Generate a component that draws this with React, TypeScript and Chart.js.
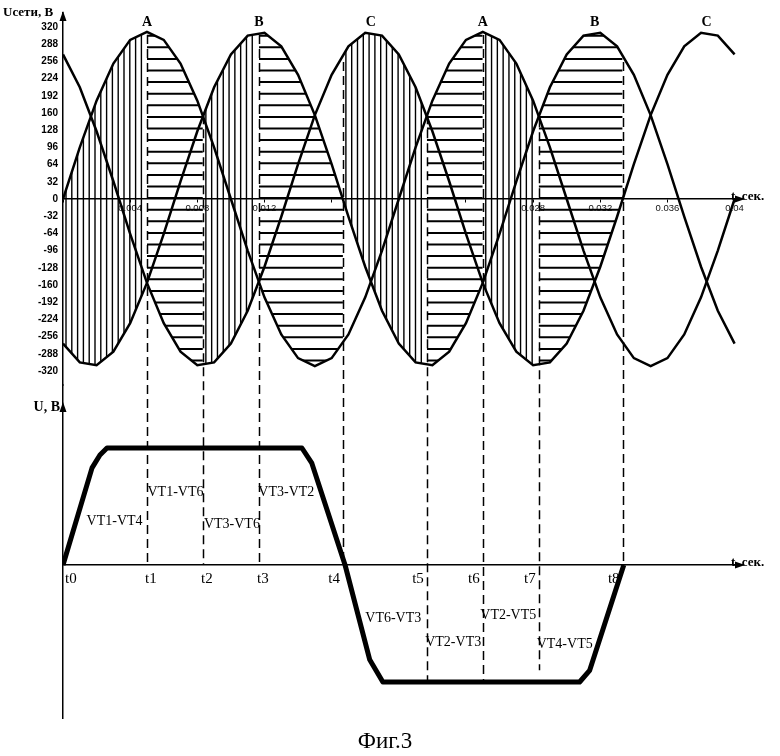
import React, { useEffect, useRef } from 'react';
import { Chart, registerables } from 'chart.js';

Chart.register(...registerables);

// ---- data ----
const timeValues = [
  0, 0.001, 0.002, 0.003, 0.004, 0.005, 0.006, 0.007, 0.008, 0.009,
  0.01, 0.011, 0.012, 0.013, 0.014, 0.015, 0.016, 0.017, 0.018, 0.019,
  0.02, 0.021, 0.022, 0.023, 0.024, 0.025, 0.026, 0.027, 0.028, 0.029,
  0.03, 0.031, 0.032, 0.033, 0.034, 0.035, 0.036, 0.037, 0.038, 0.039, 0.04,
];
const phaseA = [
  0, 96, 183, 252, 296, 311, 296, 252, 183, 96, 0, -96, -183, -252, -296, -311, -296, -252, -183, -96,
  0, 96, 183, 252, 296, 311, 296, 252, 183, 96, 0, -96, -183, -252, -296, -311, -296, -252, -183, -96, 0,
];
const phaseB = [
  -269, -304, -309, -284, -231, -156, -65, 33, 126, 208, 269, 304, 309, 284, 231, 156, 65, -33, -126, -208,
  -269, -304, -309, -284, -231, -156, -65, 33, 126, 208, 269, 304, 309, 284, 231, 156, 65, -33, -126, -208, -269,
];
const phaseC = [
  269, 208, 126, 33, -65, -156, -231, -284, -309, -304, -269, -208, -126, -33, 65, 156, 231, 284, 309, 304,
  269, 208, 126, 33, -65, -156, -231, -284, -309, -304, -269, -208, -126, -33, 65, 156, 231, 284, 309, 304, 269,
];
const phaseNames = ['A', 'B', 'C', 'A', 'B', 'C'];
const phasePeakTimes = [0.005, 0.01167, 0.01833, 0.025, 0.03167, 0.03833];
const phasePeakValue = 311;

const yTickValues = [320, 288, 256, 224, 192, 160, 128, 96, 64, 32, 0, -32, -64, -96, -128, -160, -192, -224, -256, -288, -320];
const xTickValues = [0, 0.004, 0.008, 0.012, 0.016, 0.02, 0.024, 0.028, 0.032, 0.036, 0.04];
const xTickLabels = ['', '0.004', '0.008', '0.012', '', '', '', '0.028', '0.032', '0.036', '0.04'];

const markerTimes = [0.005, 0.00833, 0.01167, 0.01667, 0.02167, 0.025, 0.02833, 0.03333];
const markerLabels = ['t1', 't2', 't3', 't4', 't5', 't6', 't7', 't8'];
const markerTopValues = [305, 156, 305, 255, 156, 305, 150, 255];
const markerBottomValues = [0, 0, 0, 0, -1, -1, -0.9, 0];

const outTimes = [0, 0.00173, 0.0022, 0.00262, 0.01423, 0.01482, 0.0168, 0.01827, 0.01905, 0.03077, 0.03137, 0.0334];
const outValues = [0, 0.83, 0.94, 1, 1, 0.87, 0, -0.81, -1, -1, -0.9, 0];

const switchPairs = ['VT1-VT4', 'VT1-VT6', 'VT3-VT6', 'VT3-VT2', 'VT6-VT3', 'VT2-VT3', 'VT2-VT5', 'VT4-VT5'];

// ---- layout / style config ----
const switchLabelAnchors = [
  [0.00307, 0.37], [0.0067, 0.62], [0.01006, 0.35], [0.0133, 0.62],
  [0.01967, -0.46], [0.02324, -0.66], [0.02652, -0.43], [0.02988, -0.675],
];
const hatchRegions = [
  { upper: 'A', lower: 'B', dir: 'v' },
  { upper: 'A', lower: 'C', dir: 'h' },
  { upper: 'B', lower: 'C', dir: 'v' },
  { upper: 'B', lower: 'A', dir: 'h' },
  { upper: 'C', lower: 'B', dir: 'v' },
  { upper: 'A', lower: 'B', dir: 'h' },
  { upper: 'A', lower: 'C', dir: 'v' },
  { upper: 'B', lower: 'C', dir: 'h' },
];

const SERIF = '"Liberation Serif", "Times New Roman", serif';
const SANS = '"Liberation Sans", Arial, sans-serif';

const figurePlugin = {
  id: 'figure',
  beforeDatasetsDraw(chart: any) {
    const { ctx, scales } = chart;
    const x = scales.x, y = scales.y, y2 = scales.y2;
    const series: any = { A: phaseA, B: phaseB, C: phaseC };
    const bounds = [0, ...markerTimes];
    hatchRegions.forEach((r, k) => {
      const x0 = x.getPixelForValue(bounds[k]);
      const x1 = x.getPixelForValue(bounds[k + 1]);
      const up = series[r.upper];
      const lo = series[r.lower];
      ctx.save();
      ctx.beginPath();
      ctx.rect(x0, y.top, x1 - x0, y.bottom - y.top);
      ctx.clip();
      ctx.beginPath();
      timeValues.forEach((t, i) => {
        const px = x.getPixelForValue(t);
        const py = y.getPixelForValue(up[i]);
        if (i === 0) ctx.moveTo(px, py); else ctx.lineTo(px, py);
      });
      for (let i = timeValues.length - 1; i >= 0; i--) {
        ctx.lineTo(x.getPixelForValue(timeValues[i]), y.getPixelForValue(lo[i]));
      }
      ctx.closePath();
      ctx.clip();
      ctx.strokeStyle = '#000';
      ctx.beginPath();
      if (r.dir === 'v') {
        ctx.lineWidth = 1.4;
        for (let px = x0 + 3; px < x1 - 1; px += 5.8) {
          ctx.moveTo(px, y.top);
          ctx.lineTo(px, y.bottom);
        }
      } else {
        ctx.lineWidth = 2;
        const p0 = y.getPixelForValue(0);
        for (let j = -40; j <= 40; j++) {
          const py = p0 - 12.5 + j * 11.6;
          if (py < y.top || py > y.bottom) continue;
          ctx.moveTo(x0, py);
          ctx.lineTo(x1, py);
        }
      }
      ctx.stroke();
      ctx.restore();
    });

    // dashed time markers
    ctx.save();
    ctx.strokeStyle = '#000';
    ctx.lineWidth = 1.5;
    ctx.setLineDash([9, 5]);
    markerTimes.forEach((t, i) => {
      const px = Math.round(x.getPixelForValue(t)) + 0.5;
      ctx.beginPath();
      ctx.moveTo(px, y.getPixelForValue(markerTopValues[i]));
      ctx.lineTo(px, y2.getPixelForValue(markerBottomValues[i]));
      ctx.stroke();
    });
    ctx.restore();
  },
  afterDraw(chart: any) {
    const { ctx, scales } = chart;
    const x = scales.x, y = scales.y, y2 = scales.y2;
    ctx.save();
    ctx.fillStyle = '#000';

    // arrows
    const axisX = y.right;
    const up = (tx: number, ty: number) => {
      ctx.beginPath();
      ctx.moveTo(tx, ty);
      ctx.lineTo(tx - 3.5, ty + 10);
      ctx.lineTo(tx + 3.5, ty + 10);
      ctx.closePath();
      ctx.fill();
    };
    const right = (tx: number, ty: number) => {
      ctx.beginPath();
      ctx.moveTo(tx, ty);
      ctx.lineTo(tx - 10, ty - 3.5);
      ctx.lineTo(tx - 10, ty + 3.5);
      ctx.closePath();
      ctx.fill();
    };
    up(axisX, y.top - 2);
    up(axisX, y2.top + 17);
    const zeroTop = y.getPixelForValue(0);
    const zeroBottom = y2.getPixelForValue(0);
    right(x.right + 2, zeroTop);
    right(x.right + 2, zeroBottom);

    // axis titles
    ctx.textBaseline = 'middle';
    ctx.textAlign = 'left';
    ctx.font = `bold 13px ${SERIF}`;
    ctx.fillText('Uсети, В', 3, y.top);
    ctx.textAlign = 'right';
    ctx.font = `bold 14px ${SERIF}`;
    ctx.fillText('U, В', axisX - 3, y2.top + 22);
    ctx.textAlign = 'left';
    ctx.textBaseline = 'alphabetic';
    ctx.font = `bold 13px ${SERIF}`;
    ctx.fillText('t, сек.', x.right - 12, zeroTop + 1);
    ctx.fillText('t, сек.', x.right - 12, zeroBottom + 1);

    // phase names
    ctx.textAlign = 'center';
    ctx.textBaseline = 'middle';
    ctx.font = `bold 14px ${SERIF}`;
    phaseNames.forEach((n, i) => {
      ctx.fillText(n, x.getPixelForValue(phasePeakTimes[i]), y.getPixelForValue(phasePeakValue) - 9);
    });

    // switch pair labels
    ctx.font = `14px ${SERIF}`;
    switchPairs.forEach((s, i) => {
      const [t, v] = switchLabelAnchors[i];
      ctx.fillText(s, x.getPixelForValue(t), y2.getPixelForValue(v));
    });

    // time marker labels
    ctx.font = `15px ${SERIF}`;
    const labY = y2.getPixelForValue(-0.12);
    ctx.textAlign = 'left';
    ctx.fillText('t0', x.getPixelForValue(0) + 2, labY);
    markerLabels.forEach((l, i) => {
      const px = x.getPixelForValue(markerTimes[i]);
      if (i < 3) {
        ctx.textAlign = 'center';
        ctx.fillText(l, px + 4, labY);
      } else {
        ctx.textAlign = 'right';
        ctx.fillText(l, px - 3, labY);
      }
    });

    // caption
    ctx.textAlign = 'center';
    ctx.font = `23px ${SERIF}`;
    ctx.fillText('Фиг.3', chart.width / 2 - 5, chart.height - 14);
    ctx.restore();
  },
};

export default function App() {
  const ref = useRef<HTMLCanvasElement>(null);
  useEffect(() => {
    document.body.style.margin = '0';
    document.body.style.overflow = 'hidden';
    const lineStyle = { borderColor: '#000', borderWidth: 2.5, pointRadius: 0, tension: 0, fill: false };
    const chart = new Chart(ref.current as HTMLCanvasElement, {
      type: 'line',
      data: {
        datasets: [
          { label: 'A', data: timeValues.map((t, i) => ({ x: t, y: phaseA[i] })), xAxisID: 'x', yAxisID: 'y', ...lineStyle },
          { label: 'B', data: timeValues.map((t, i) => ({ x: t, y: phaseB[i] })), xAxisID: 'x', yAxisID: 'y', ...lineStyle },
          { label: 'C', data: timeValues.map((t, i) => ({ x: t, y: phaseC[i] })), xAxisID: 'x', yAxisID: 'y', ...lineStyle },
          {
            label: 'U', data: outTimes.map((t, i) => ({ x: t, y: outValues[i] })), xAxisID: 'x2', yAxisID: 'y2',
            borderColor: '#000', borderWidth: 5, pointRadius: 0, tension: 0, fill: false, borderJoinStyle: 'round',
          },
        ],
      },
      options: {
        responsive: false,
        maintainAspectRatio: false,
        animation: false,
        devicePixelRatio: 1,
        events: [],
        layout: { padding: { left: 0, right: 37, top: 13, bottom: 38 } },
        plugins: { legend: { display: false }, tooltip: { enabled: false }, title: { display: false } },
        scales: {
          x: {
            type: 'linear', axis: 'x', min: 0, max: 0.0405, position: { y: 0 },
            afterBuildTicks: (s: any) => { s.ticks = xTickValues.map((v) => ({ value: v })); },
            ticks: {
              autoSkip: false, maxRotation: 0, padding: 1, color: '#111',
              font: { family: SANS, size: 9.5 },
              callback: (_v: any, i: number) => xTickLabels[i],
            },
            grid: { display: true, drawOnChartArea: false, drawTicks: true, tickLength: 3, color: '#000', lineWidth: 1 },
            border: { display: true, color: '#000', width: 1.5 },
          },
          y: {
            type: 'linear', axis: 'y', min: -346, max: 346, position: 'left', stack: 'fig', stackWeight: 372, weight: 2,
            afterBuildTicks: (s: any) => { s.ticks = yTickValues.map((v) => ({ value: v })); },
            afterFit: (s: any) => { s.width = 63; },
            ticks: {
              autoSkip: false, padding: 5, color: '#000',
              font: { family: SANS, size: 10, weight: 'bold' },
              callback: (v: any) => String(v),
            },
            grid: { display: false, drawTicks: false },
            border: { display: true, color: '#000', width: 1.5 },
          },
          x2: {
            type: 'linear', axis: 'x', min: 0, max: 0.0405, position: { y2: 0 },
            ticks: { display: false },
            grid: { display: false, drawTicks: false },
            border: { display: true, color: '#000', width: 1.5 },
          },
          y2: {
            type: 'linear', axis: 'y', min: -1.3077, max: 1.5385, position: 'left', stack: 'fig', stackWeight: 333, weight: 1,
            afterFit: (s: any) => { s.width = 63; },
            ticks: { display: false },
            grid: { display: false, drawTicks: false },
            border: { display: true, color: '#000', width: 1.5 },
          },
        },
      } as any,
      plugins: [figurePlugin],
    } as any);
    return () => chart.destroy();
  }, []);
  return (
    <div style={{ width: 780, height: 756, background: '#fff', overflow: 'hidden' }}>
      <style>{'body{margin:0;overflow:hidden;}'}</style>
      <canvas ref={ref} width={780} height={756} style={{ display: 'block', width: 780, height: 756 }} />
    </div>
  );
}
